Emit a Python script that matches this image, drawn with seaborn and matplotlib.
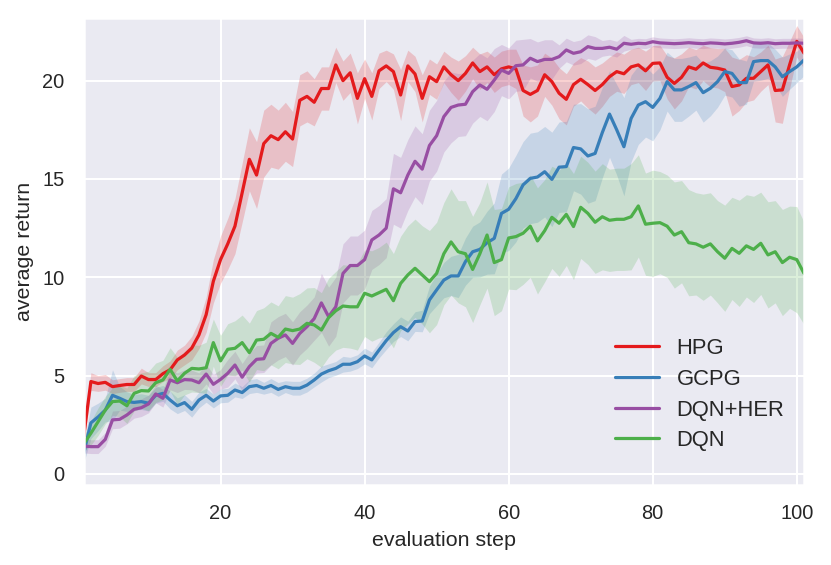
import numpy as np
import pandas as pd
import matplotlib
matplotlib.use("Agg")
import matplotlib.pyplot as plt
import seaborn as sns

# evaluation steps
steps = list(range(1, 102))

hpg = [1.9, 4.7, 4.6, 4.66, 4.44, 4.5, 4.55, 4.55, 4.98, 4.8,
       4.8, 5.1, 5.3, 5.8, 6.05, 6.4, 7.07, 8.1, 9.8, 10.9,
       11.7, 12.6, 14.3, 16.0, 15.2, 16.8, 17.2, 17.0, 17.4, 17.03,
       19.0, 19.2, 18.9, 19.6, 19.6, 20.8, 20.0, 20.4, 19.1, 20.1,
       19.2, 20.5, 20.75, 20.46, 19.27, 20.75, 20.34, 19.1, 20.2, 19.95,
       20.7, 20.3, 20.0, 20.37, 20.9, 20.46, 20.7, 20.3, 20.6, 20.7,
       20.6, 19.5, 19.3, 19.5, 20.3, 19.95, 19.36, 19.05, 19.8, 20.07,
       19.8, 19.5, 19.8, 20.2, 20.46, 20.35, 20.7, 20.8, 20.5, 20.88,
       20.9, 20.17, 19.86, 20.17, 20.7, 20.58, 20.9, 20.68, 20.63, 20.54,
       19.7, 19.78, 20.12, 20.12, 20.46, 20.8, 19.5, 19.53, 20.8, 22.0,
       21.4]
hpg_sd = [0.4, 0.45, 0.4, 0.4, 0.35, 0.35, 0.35, 0.35, 0.4, 0.35,
          0.35, 0.4, 0.45, 0.5, 0.5, 0.6, 0.7, 0.9, 1.1, 1.2,
          1.3, 1.4, 1.5, 1.6, 1.7, 1.7, 1.6, 1.5, 1.5, 1.4,
          1.3, 1.3, 1.2, 1.1, 1.1, 0.9, 1.0, 1.0, 1.3, 1.0,
          1.2, 0.9, 0.8, 0.9, 1.3, 0.8, 0.9, 1.2, 0.9, 0.9,
          0.8, 0.9, 1.0, 0.9, 0.8, 0.9, 0.8, 0.9, 0.9, 0.9,
          1.0, 1.3, 1.4, 1.3, 1.1, 1.2, 1.3, 1.3, 1.1, 1.1,
          1.2, 1.2, 1.1, 1.0, 1.0, 1.0, 0.9, 0.9, 1.0, 0.9,
          0.9, 1.1, 1.3, 1.2, 1.0, 1.0, 0.9, 1.0, 1.0, 1.1,
          1.5, 1.3, 1.2, 1.1, 1.0, 1.0, 1.6, 1.7, 1.2, 0.8,
          0.8]

gcpg = [1.05, 2.6, 2.9, 3.25, 4.0, 3.85, 3.68, 3.64, 3.68, 3.6,
        4.0, 4.1, 3.76, 3.47, 3.63, 3.29, 3.76, 4.0, 3.71, 3.97,
        4.0, 4.27, 4.14, 4.44, 4.5, 4.36, 4.5, 4.3, 4.44, 4.36,
        4.36, 4.52, 4.78, 5.08, 5.25, 5.37, 5.58, 5.58, 5.71, 6.0,
        5.8, 6.3, 6.78, 7.19, 7.49, 7.27, 7.75, 7.78, 8.85, 9.36,
        9.86, 10.07, 10.07, 10.8, 11.3, 11.42, 11.76, 11.98, 13.25, 13.46,
        14.0, 14.7, 15.03, 15.1, 15.37, 14.98, 15.6, 15.63, 16.6, 16.53,
        16.17, 16.3, 17.36, 18.3, 17.5, 16.64, 18.08, 18.76, 18.93, 18.64,
        19.1, 19.95, 19.53, 19.53, 19.7, 19.9, 19.39, 19.61, 19.95, 20.46,
        20.37, 19.9, 19.9, 20.97, 21.02, 21.02, 20.7, 20.2, 20.46, 20.7,
        21.05]
gcpg_sd = [0.5, 0.8, 0.7, 0.6, 1.3, 0.6, 0.5, 0.4, 0.4, 0.4,
           0.4, 0.4, 0.45, 0.4, 0.4, 0.4, 0.4, 0.35, 0.35, 0.35,
           0.35, 0.35, 0.3, 0.35, 0.35, 0.3, 0.35, 0.35, 0.3, 0.35,
           0.35, 0.35, 0.35, 0.4, 0.35, 0.35, 0.4, 0.35, 0.35, 0.4,
           0.4, 0.4, 0.45, 0.45, 0.5, 0.5, 0.5, 0.55, 0.7, 0.8,
           0.9, 1.0, 1.1, 1.2, 1.3, 1.4, 1.6, 1.8, 2.0, 2.1,
           2.2, 2.2, 2.3, 2.3, 2.3, 2.4, 2.3, 2.3, 2.2, 2.3,
           2.4, 2.4, 2.3, 2.2, 2.3, 2.5, 2.2, 2.0, 1.8, 1.7,
           1.6, 1.5, 1.6, 1.6, 1.5, 1.4, 1.5, 1.4, 1.3, 1.2,
           1.2, 1.2, 1.1, 1.0, 1.0, 0.9, 0.9, 1.0, 0.9, 0.8,
           0.8]

dqn_her = [1.42, 1.39, 1.39, 1.76, 2.75, 2.78, 3.0, 3.29, 3.37, 3.56,
           4.07, 3.85, 4.78, 4.64, 4.8, 4.78, 4.64, 5.08, 4.56, 4.81,
           5.12, 5.54, 4.92, 5.46, 5.83, 5.86, 6.64, 6.9, 7.07, 6.64,
           7.15, 7.49, 7.9, 8.7, 8.0, 8.5, 10.2, 10.6, 10.6, 10.9,
           11.9, 12.15, 12.5, 14.5, 14.3, 15.2, 15.9, 15.5, 16.7, 17.2,
           18.17, 18.64, 18.76, 18.8, 19.44, 19.78, 19.56, 20.03, 20.54, 20.37,
           20.76, 20.8, 21.14, 20.97, 21.08, 21.08, 21.22, 21.56, 21.39, 21.47,
           21.73, 21.64, 21.64, 21.7, 21.6, 21.9, 21.85, 21.9, 21.88, 21.98,
           21.92, 21.9, 21.88, 21.9, 21.93, 21.9, 21.88, 21.92, 21.9, 21.87,
           21.9, 21.95, 22.03, 21.92, 21.9, 21.93, 21.88, 21.9, 21.9, 21.92,
           21.9]
dqn_her_sd = [0.35, 0.35, 0.35, 0.35, 0.45, 0.45, 0.45, 0.45, 0.45, 0.45,
              0.45, 0.45, 0.5, 0.5, 0.5, 0.5, 0.5, 0.5, 0.5, 0.5,
              0.7, 0.7, 0.7, 0.7, 0.7, 0.7, 1.1, 1.1, 1.1, 1.1,
              1.1, 1.1, 1.1, 1.5, 1.5, 1.5, 1.5, 1.5, 1.5, 1.5,
              1.5, 1.5, 1.5, 1.8, 1.8, 1.8, 1.8, 1.8, 1.8, 1.8,
              1.8, 1.8, 1.6, 1.6, 1.6, 1.6, 1.6, 1.6, 1.3, 1.3,
              1.3, 1.3, 1.0, 1.0, 1.0, 1.0, 0.6, 0.6, 0.6, 0.6,
              0.6, 0.6, 0.4, 0.4, 0.4, 0.4, 0.25, 0.25, 0.25, 0.25,
              0.25, 0.25, 0.25, 0.25, 0.25, 0.25, 0.25, 0.25, 0.25, 0.25,
              0.25, 0.25, 0.25, 0.25, 0.25, 0.25, 0.25, 0.25, 0.25, 0.25,
              0.25]

dqn = [1.53, 2.07, 2.66, 3.25, 3.68, 3.71, 3.47, 4.1, 4.24, 4.22,
       4.64, 4.78, 5.32, 4.73, 5.12, 5.37, 5.34, 5.4, 6.68, 5.75,
       6.34, 6.39, 6.68, 6.17, 6.81, 6.85, 7.15, 6.95, 7.37, 7.29,
       7.37, 7.66, 7.58, 7.32, 7.95, 8.3, 8.54, 8.5, 8.5, 9.19,
       9.05, 9.22, 9.39, 8.81, 9.69, 10.12, 10.46, 10.12, 9.78, 10.2,
       11.2, 11.8, 11.3, 11.2, 10.4, 11.2, 12.15, 10.75, 10.9, 12.0,
       12.07, 12.24, 12.6, 11.85, 12.37, 13.05, 12.75, 13.2, 12.58, 13.56,
       13.25, 12.8, 13.08, 12.9, 12.95, 12.95, 13.08, 13.63, 12.7, 12.75,
       12.78, 12.6, 12.15, 12.32, 11.76, 11.7, 11.53, 11.7, 11.3, 10.97,
       11.47, 11.22, 11.6, 11.42, 11.73, 11.14, 11.3, 10.75, 11.02, 10.9,
       10.2]
dqn_sd = [0.4, 0.6, 0.7, 0.7, 0.7, 0.8, 0.9, 0.9, 0.9, 1.0,
          1.0, 1.0, 1.1, 1.2, 1.1, 1.2, 1.2, 1.3, 1.2, 1.3,
          1.3, 1.4, 1.4, 1.5, 1.5, 1.6, 1.6, 1.6, 1.7, 1.7,
          1.8, 1.8, 1.9, 1.9, 2.0, 2.0, 2.1, 2.1, 2.2, 2.2,
          2.3, 2.3, 2.4, 2.4, 2.4, 2.5, 2.5, 2.5, 2.6, 2.6,
          2.6, 2.7, 2.6, 2.7, 2.7, 2.6, 2.7, 2.7, 2.6, 2.6,
          2.7, 2.6, 2.6, 2.7, 2.6, 2.6, 2.7, 2.6, 2.7, 2.6,
          2.6, 2.6, 2.7, 2.6, 2.6, 2.6, 2.7, 2.6, 2.6, 2.7,
          2.6, 2.6, 2.7, 2.6, 2.7, 2.6, 2.7, 2.6, 2.6, 2.7,
          2.6, 2.7, 2.6, 2.7, 2.6, 2.7, 2.6, 2.7, 2.6, 2.7,
          2.6]

methods = ["HPG", "GCPG", "DQN+HER", "DQN"]
means = [hpg, gcpg, dqn_her, dqn]
spreads = [hpg_sd, gcpg_sd, dqn_her_sd, dqn_sd]

sns.set_theme(style="darkgrid")
plt.rcParams["font.family"] = ["Liberation Sans", "DejaVu Sans"]
colors = sns.color_palette("Set1", 4)
palette = {"HPG": colors[0], "GCPG": colors[1], "DQN+HER": colors[3], "DQN": colors[2]}

df = pd.concat([pd.DataFrame({"evaluation step": steps, "average return": m, "method": name})
                for name, m in zip(methods, means)], ignore_index=True)

fig = plt.figure(figsize=(831 / 144, 565 / 144), dpi=144)
ax = fig.add_axes([0.1007, 0.1416, 0.8668, 0.826])

# shaded spread around each curve
for name, m, s in zip(methods, means, spreads):
    m = np.array(m)
    s = np.array(s)
    ax.fill_between(steps, m - s, m + s, color=palette[name], alpha=0.2, linewidth=0)

sns.lineplot(data=df, x="evaluation step", y="average return", hue="method",
             hue_order=methods, palette=palette, linewidth=1.6, ax=ax)

ax.set_xlim(1, 101)
ax.set_ylim(-0.56, 23.17)
ax.set_xticks([20, 40, 60, 80, 100])
ax.set_yticks([0, 5, 10, 15, 20])
ax.tick_params(labelsize=10)
ax.set_xlabel("evaluation step", fontsize=10.7)
ax.set_ylabel("average return", fontsize=10.7)
ax.legend(loc="lower right", frameon=False, fontsize=11, labelspacing=0.44,
          bbox_to_anchor=(1.0, 0.03))

fig.savefig("out.png", dpi=144)
